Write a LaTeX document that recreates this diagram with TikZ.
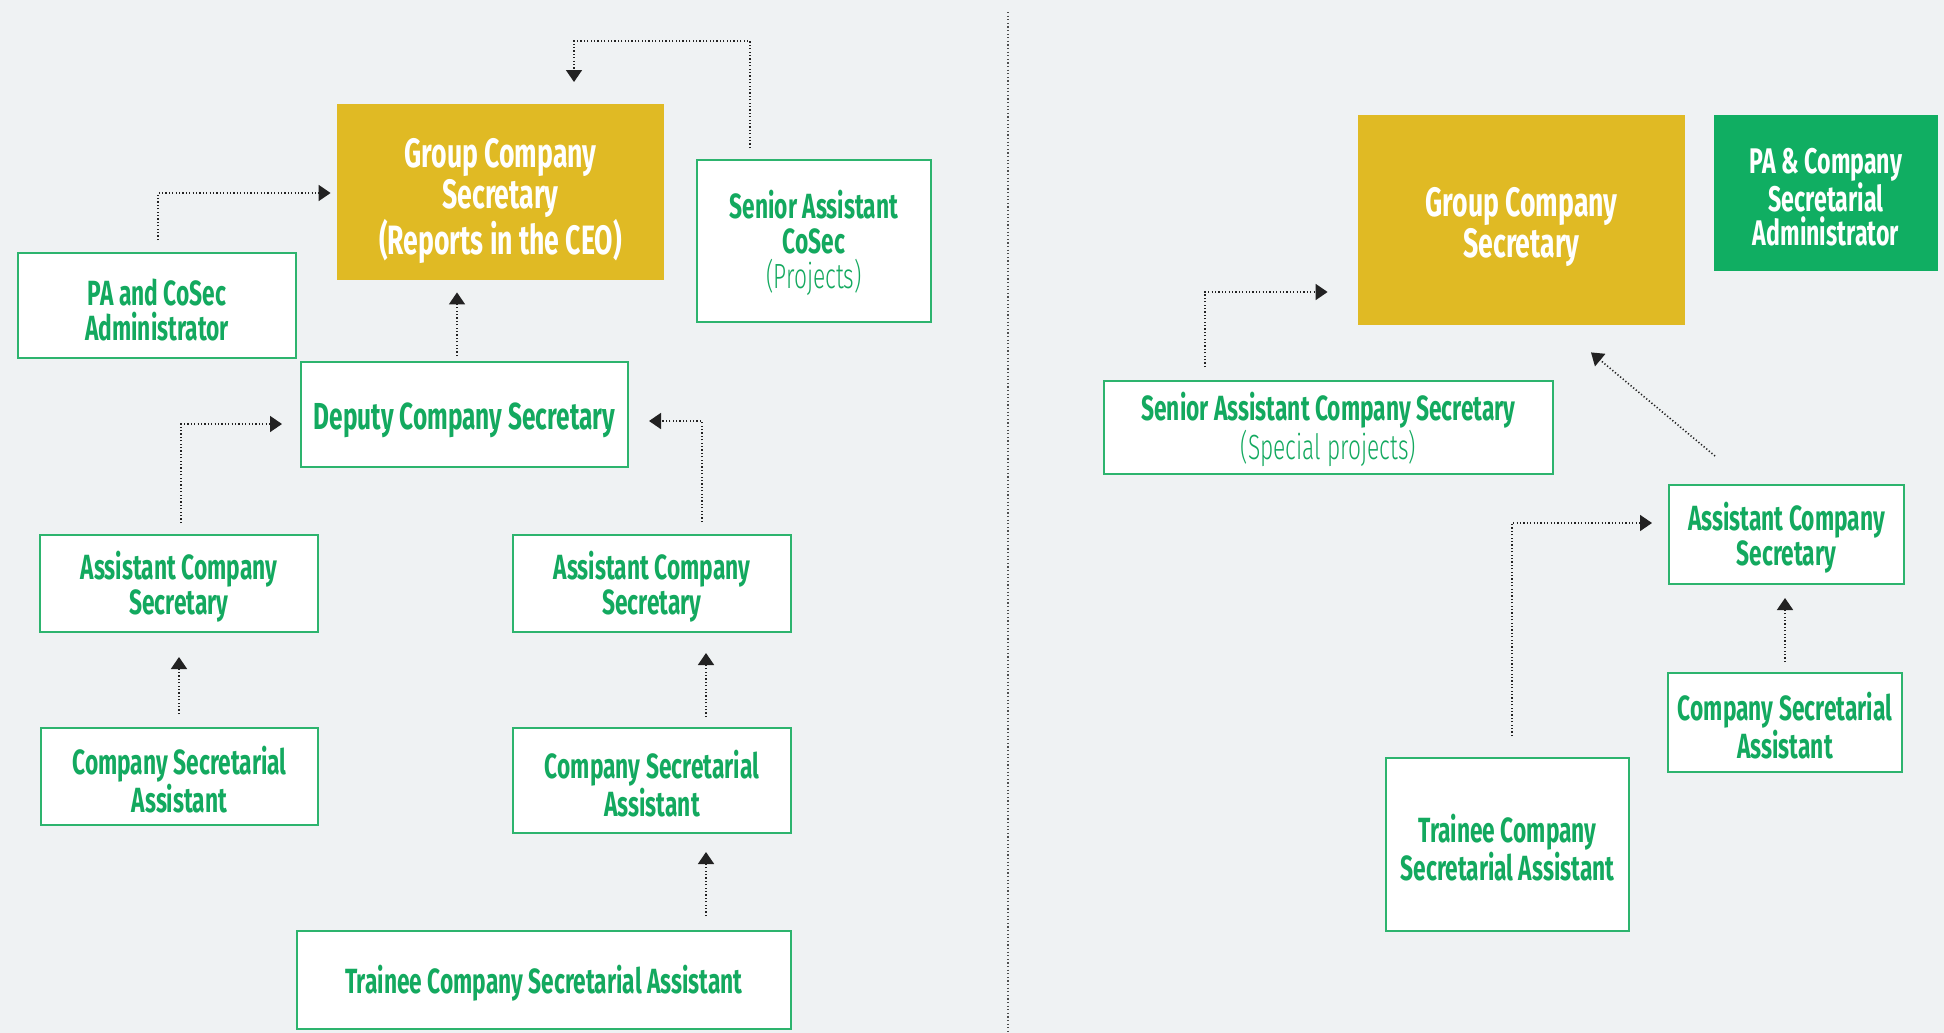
\documentclass[tikz,border=0pt]{standalone}
\usepackage{fontspec}
\setmainfont[FakeStretch=0.65]{Fira Sans}
\newfontfamily\lightfont[FakeStretch=0.65]{Fira Sans Light}
\usetikzlibrary{arrows.meta,calc}
\definecolor{bg}{HTML}{EFF2F3}
\definecolor{gold}{HTML}{E0BA24}
\definecolor{dgreen}{HTML}{10AE62}
\definecolor{tgreen}{HTML}{13A95F}
\definecolor{bgreen}{HTML}{2DB46E}
\definecolor{lineblk}{HTML}{222222}
\newcommand\fl[1]{\rule{0pt}{#1}}
\begin{document}
\begin{tikzpicture}[x=0.5pt,y=-0.5pt,
  tshift/.style={execute at begin node={\rule{0pt}{#1}}},
  orgbox/.style={draw=bgreen, line width=1pt, fill=white, text=tgreen, align=center,
    inner sep=0pt, font=\fontsize{17.5pt}{17.5pt}\selectfont\bfseries, tshift=17.5pt},
  goldbox/.style={fill=gold, text=white, align=center, inner sep=0pt,
    font=\fontsize{20.5pt}{20.5pt}\selectfont\bfseries},
  greenbox/.style={fill=dgreen, text=white, align=center, inner sep=0pt,
    font=\fontsize{17.8pt}{17pt}\selectfont\bfseries},
  conn/.style={draw=lineblk, line width=0.8pt, dash pattern=on 0.6pt off 1.1pt,
    -{Triangle[length=6pt,width=8pt]}},
  divider/.style={draw=lineblk!80, line width=0.7pt, dash pattern=on 0.6pt off 1.2pt}]
\fill[bg] (0,0) rectangle (1944,1033);
\useasboundingbox (0,0) rectangle (1944,1033);

% ---------- left chart ----------
\node[goldbox, minimum width=163.5pt, minimum height=88pt] (gcsL) at (500.5,192)
  {\fl{23.5pt}Group Company\\Secretary\\(Reports in the CEO)};
\node[orgbox, minimum width=117pt, minimum height=81pt] (sacs) at (814,241)
  {\fl{16.5pt}Senior Assistant\\CoSec\\{\lightfont\mdseries (Projects)}};
\node[orgbox, minimum width=139pt, minimum height=52.5pt] (pa) at (157,305.5)
  {\fl{17.5pt}PA and CoSec\\Administrator};
\node[orgbox, minimum width=163.5pt, minimum height=52.5pt,
  font=\fontsize{18.8pt}{17.5pt}\selectfont\bfseries, tshift=19.5pt] (dep) at (464.5,414.5)
  {Deputy Company Secretary};
\node[orgbox, minimum width=139pt, minimum height=48.5pt] (acsL1) at (179,583.5)
  {\fl{17.5pt}Assistant Company\\Secretary};
\node[orgbox, minimum width=138.5pt, minimum height=48.5pt] (csaL1) at (179.5,776.5)
  {\fl{17.5pt}Company Secretarial\\Assistant};
\node[orgbox, minimum width=139pt, minimum height=48.5pt] (acsL2) at (652,583.5)
  {\fl{17.5pt}Assistant Company\\Secretary};
\node[orgbox, minimum width=139pt, minimum height=52.5pt] (csaL2) at (652,780.5)
  {\fl{17.5pt}Company Secretarial\\Assistant};
\node[orgbox, minimum width=247pt, minimum height=49pt] (trainee) at (544,980)
  {Trainee Company Secretarial Assistant};

\coordinate (topEnd) at (574,82);
\draw[conn] ([shift={(-64,-11)}]sacs.north) -- ++(0,-107) -| (topEnd);
\draw[conn] ([shift={(1,-12)}]pa.north) |- ([shift={(-6,1)}]gcsL.west);
\draw[conn] ([shift={(-7.5,-5)}]dep.north) -- ([shift={(-43.5,12)}]gcsL.south);
\draw[conn] ([shift={(2,-11)}]acsL1.north) |- ([shift={(-18,9.5)}]dep.west);
\draw[conn] ([shift={(50,-12)}]acsL2.north) |- ([shift={(20,6.5)}]dep.east);
\draw[conn] ([shift={(-0.5,-13)}]csaL1.north) -- ([shift={(0,24)}]acsL1.south);
\draw[conn] ([shift={(54,-10)}]csaL2.north) -- ([shift={(54,20)}]acsL2.south);
\draw[conn] ([shift={(162,-14)}]trainee.north) -- ([shift={(54,18)}]csaL2.south);

% ---------- divider ----------
\draw[divider] (1008,12) -- (1008,1033);

% ---------- right chart ----------
\node[goldbox, minimum width=163.5pt, minimum height=105pt] (gcsR) at (1521.5,220)
  {\fl{22pt}Group Company\\Secretary};
\node[greenbox, minimum width=112pt, minimum height=78pt] (paR) at (1826,193)
  {\fl{16.7pt}PA \& Company\\Secretarial\\Administrator};
\node[orgbox, minimum width=224.5pt, minimum height=46.5pt] (sacsR) at (1328.5,427.5)
  {\fl{16.5pt}Senior Assistant Company Secretary\\{\lightfont\mdseries (Special projects)}};
\node[orgbox, minimum width=117.5pt, minimum height=49.5pt] (acsR) at (1786.5,534.5)
  {\fl{17.5pt}Assistant Company\\Secretary};
\node[orgbox, minimum width=117pt, minimum height=49.5pt] (csaR) at (1785,722.5)
  {\fl{17.5pt}Company Secretarial\\Assistant};
\node[orgbox, minimum width=121.5pt, minimum height=86.5pt] (traineeR) at (1507.5,844.5)
  {\fl{17.5pt}Trainee Company\\Secretarial Assistant};

\draw[conn] ([shift={(-123.5,-13)}]sacsR.north) |- ([shift={(-30,72)}]gcsR.west);
\draw[conn] ([shift={(-71.5,-28)}]acsR.north) -- ([shift={(69.5,27)}]gcsR.south);
\draw[conn] ([shift={(0,-10)}]csaR.north) -- ([shift={(-1.5,13)}]acsR.south);
\draw[conn] ([shift={(4.5,-21)}]traineeR.north) |- ([shift={(-16,-11.5)}]acsR.west);
\end{tikzpicture}
\end{document}
